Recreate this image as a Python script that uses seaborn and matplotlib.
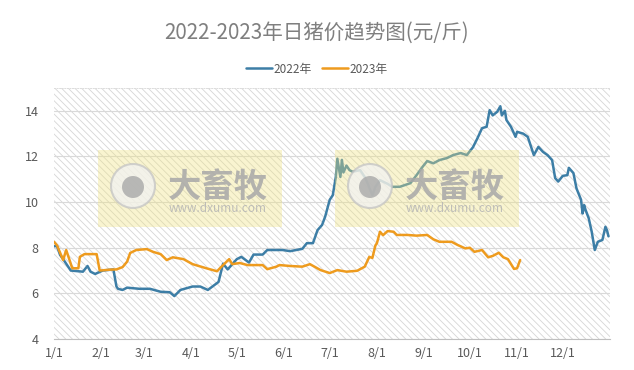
import matplotlib.pyplot as plt
import numpy as np
import pandas as pd
import seaborn as sns
from matplotlib.patches import Rectangle, Circle

# 日猪价数据 (x = 一年中的第几天, 从1/1起算)
days_2022 = [0, 2, 4, 6, 11, 19, 22, 24, 27, 32, 39, 41, 42, 45, 48, 56, 63, 70, 76, 79,
             83, 91, 96, 101, 106, 108, 111, 114, 120, 123, 128, 131, 137, 140, 150, 155,
             163, 166, 170, 173, 176, 178, 181, 183, 185, 186, 188, 189, 190, 192, 194,
             196, 201, 204, 206, 209, 211, 214, 219, 222, 227, 234, 238, 242, 245, 249,
             253, 258, 262, 267, 271, 275, 278, 281, 284, 286, 288, 291, 293, 294, 296,
             297, 300, 303, 304, 308, 311, 315, 318, 321, 324, 327, 329, 331, 334, 337,
             338, 341, 343, 346, 347, 348, 349, 351, 353, 355, 357, 360, 362, 363, 364]
price_2022 = [8.07, 8.07, 7.68, 7.5, 7.0, 6.95, 7.2, 6.95, 6.85, 7.0, 7.05, 6.3, 6.2, 6.15,
              6.25, 6.2, 6.2, 6.07, 6.05, 5.88, 6.15, 6.3, 6.3, 6.15, 6.4, 6.5, 7.3, 7.05,
              7.5, 7.6, 7.35, 7.7, 7.7, 7.9, 7.9, 7.85, 7.95, 8.2, 8.2, 8.77, 9.0, 9.36,
              10.1, 10.3, 11.1, 11.9, 11.1, 11.85, 11.3, 11.6, 11.4, 11.33, 11.4, 11.1,
              10.8, 10.3, 10.67, 10.96, 10.8, 10.67, 10.67, 10.83, 11.18, 11.55, 11.8,
              11.7, 11.84, 11.93, 12.06, 12.15, 12.06, 12.4, 12.8, 13.24, 13.3, 14.03,
              13.8, 13.96, 14.2, 13.8, 14.0, 13.6, 13.3, 12.86, 13.08, 13.0, 12.86, 12.06,
              12.42, 12.2, 12.06, 11.84, 11.05, 10.9, 11.15, 11.18, 11.5, 11.27, 10.6,
              10.1, 9.5, 9.87, 9.65, 9.3, 8.7, 7.9, 8.26, 8.34, 8.92, 8.77, 8.5]

days_2023 = [0, 2, 6, 8, 10, 12, 16, 17, 20, 28, 30, 37, 41, 45, 48, 50, 54, 61, 65, 70,
             74, 78, 85, 91, 100, 107, 111, 115, 117, 122, 127, 137, 140, 146, 148, 155,
             163, 168, 175, 181, 186, 192, 199, 204, 207, 209, 211, 212, 214, 216, 219,
             223, 225, 232, 238, 245, 249, 253, 261, 265, 270, 273, 276, 281, 285, 288,
             292, 295, 298, 302, 304, 306]
price_2023 = [8.26, 8.1, 7.46, 7.9, 7.5, 7.1, 7.1, 7.6, 7.72, 7.72, 7.0, 7.04, 7.05, 7.15,
              7.39, 7.77, 7.9, 7.94, 7.82, 7.72, 7.46, 7.58, 7.5, 7.28, 7.1, 6.97, 7.24,
              7.5, 7.28, 7.33, 7.24, 7.24, 7.06, 7.17, 7.24, 7.2, 7.17, 7.28, 7.02, 6.89,
              7.02, 6.95, 6.99, 7.17, 7.6, 7.55, 8.1, 8.2, 8.7, 8.55, 8.73, 8.7, 8.56, 8.56,
              8.53, 8.56, 8.37, 8.26, 8.26, 8.12, 7.97, 8.0, 7.82, 7.9, 7.58, 7.64, 7.78,
              7.58, 7.5, 7.07, 7.1, 7.46]

month_days = [0, 31, 59, 90, 120, 151, 181, 212, 243, 273, 304, 334]
month_labels = ['1/1', '2/1', '3/1', '4/1', '5/1', '6/1', '7/1', '8/1', '9/1', '10/1', '11/1', '12/1']
y_ticks = [4, 6, 8, 10, 12, 14]
series_names = ['2022年', '2023年']
colors = ['#3d7ea6', '#ee9b1e']

df = pd.concat([
    pd.DataFrame({'day': days_2022, 'price': price_2022, 'year': series_names[0]}),
    pd.DataFrame({'day': days_2023, 'price': price_2023, 'year': series_names[1]}),
])

sns.set_theme(style='white')
plt.rcParams['font.family'] = ['Noto Sans CJK SC', 'DejaVu Sans']
plt.rcParams['hatch.linewidth'] = 0.6

fig = plt.figure(figsize=(6.34, 3.70), dpi=100)
ax = fig.add_axes([54 / 634, 31 / 370, 556 / 634, 251 / 370])

# 斜线底纹
ax.add_patch(Rectangle((0, 0), 1, 1, transform=ax.transAxes, fill=False,
                       hatch='\\\\\\\\\\', edgecolor='#d6d6d6', lw=0, zorder=0))

sns.lineplot(data=df, x='day', y='price', hue='year', palette=colors,
             linewidth=1.8, ax=ax, zorder=2)

handles, labels = ax.get_legend_handles_labels()
ax.get_legend().remove()
fig.legend(handles, labels, loc='center', bbox_to_anchor=(0.5, 1 - 69 / 370), ncol=2,
           frameon=False, fontsize=8.5, handlelength=2.2, columnspacing=0.9,
           handletextpad=0.1, labelcolor='#595959')

ax.set_xlim(0, 365)
ax.set_ylim(4, 15)
ax.set_yticks(y_ticks)
ax.set_xticks(month_days)
ax.set_xticklabels(month_labels)
ax.set_xticks(np.linspace(0, 365, 13), minor=True)
ax.tick_params(axis='x', which='major', length=0, pad=6, labelsize=9, labelcolor='#595959')
ax.tick_params(axis='x', which='minor', length=4, color='#bfbfbf', width=0.8)
ax.tick_params(axis='y', length=0, pad=11, labelsize=9, labelcolor='#595959')
ax.grid(axis='y', color='#d9d9d9', lw=0.8)
ax.set_axisbelow(True)
ax.set_xlabel('')
ax.set_ylabel('')
for s in ['left', 'right']:
    ax.spines[s].set_visible(False)
ax.spines['top'].set_color('#dcdcdc')
ax.spines['top'].set_linestyle(':')
ax.spines['top'].set_linewidth(0.7)
ax.spines['bottom'].set_color('#bfbfbf')
ax.spines['bottom'].set_linewidth(0.8)

# 水印
tr = fig.dpi_scale_trans
for x0 in [98, 335]:
    ax.add_patch(Rectangle((x0 / 100, (370 - 227) / 100), 1.84, 0.77, transform=tr,
                           facecolor='#efe27e', edgecolor='none', alpha=0.36,
                           zorder=3, clip_on=False))
    cx, cy = (x0 + 35) / 100, (370 - 186) / 100
    ax.add_patch(Circle((cx, cy), 0.22, transform=tr, facecolor='#f2f2f2',
                        edgecolor='#c4c4c4', lw=1.5, alpha=0.75, zorder=3, clip_on=False))
    ax.add_patch(Circle((cx, cy - 0.01), 0.11, transform=tr, facecolor='#a9a9a9',
                        edgecolor='none', alpha=0.8, zorder=3, clip_on=False))
    ax.text((x0 + 120) / 100, (370 - 187) / 100, '大畜牧', transform=tr, ha='center',
            va='center', fontsize=24, fontweight='bold', color='#a8a8a8', alpha=0.85,
            zorder=3)
    ax.text((x0 + 120) / 100, (370 - 209) / 100, 'www.dxumu.com', transform=tr,
            ha='center', va='center', fontsize=8.5, color='#b4b4b4', alpha=0.85, zorder=3)

fig.text(0.5, 1 - 33 / 370, '2022-2023年日猪价趋势图(元/斤)', ha='center', va='center',
         fontsize=14.8, color='#7f7f7f')

plt.savefig('out.png', dpi=100)
